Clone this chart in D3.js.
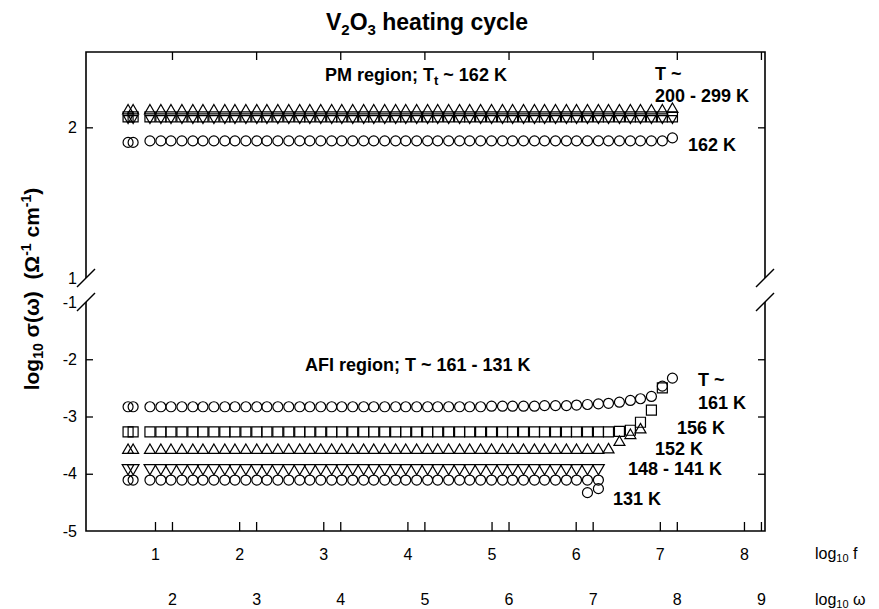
<!DOCTYPE html>
<html>
<head>
<meta charset="utf-8">
<script src="https://cdn.jsdelivr.net/npm/d3@7/dist/d3.min.js"></script>
<style>
  body { margin: 0; background: #fff; }
  svg text { font-family: "Liberation Sans", Arial, Helvetica, sans-serif; fill: #000; }
</style>
</head>
<body>
<svg id="chart" width="879" height="609"></svg>
<script>
// log10 f of every measured frequency (the first two are an extra pair at the low end)
const logF = [0.68, 0.74,
  0.94, 1.07, 1.19, 1.32, 1.45, 1.57, 1.70, 1.83, 1.95, 2.08, 2.21, 2.33, 2.46,
  2.59, 2.72, 2.84, 2.97, 3.10, 3.22, 3.35, 3.48, 3.60, 3.73, 3.86, 3.98, 4.11,
  4.24, 4.36, 4.49, 4.62, 4.74, 4.87, 5.00, 5.13, 5.25, 5.38, 5.51, 5.63, 5.76,
  5.89, 6.01, 6.14, 6.27, 6.39, 6.52, 6.65, 6.77, 6.90, 7.03, 7.15];

// PM region (T ~ 200 - 299 K and 162 K), log10 sigma
const pmTri = [2.11, 2.11, 2.11, 2.11, 2.11, 2.11, 2.11, 2.11, 2.11, 2.11, 2.11, 2.11, 2.11,
  2.11, 2.11, 2.11, 2.11, 2.11, 2.11, 2.11, 2.11, 2.11, 2.11, 2.11, 2.11, 2.11,
  2.11, 2.11, 2.11, 2.11, 2.11, 2.11, 2.11, 2.11, 2.11, 2.11, 2.11, 2.11, 2.11,
  2.11, 2.11, 2.11, 2.11, 2.11, 2.11, 2.11, 2.11, 2.11, 2.11, 2.11, 2.11, 2.12];
const pmSq = [2.07, 2.07, 2.07, 2.07, 2.07, 2.07, 2.07, 2.07, 2.07, 2.07, 2.07, 2.07, 2.07,
  2.07, 2.07, 2.07, 2.07, 2.07, 2.07, 2.07, 2.07, 2.07, 2.07, 2.07, 2.07, 2.07,
  2.07, 2.07, 2.07, 2.07, 2.07, 2.07, 2.07, 2.07, 2.07, 2.07, 2.07, 2.07, 2.07,
  2.07, 2.07, 2.07, 2.07, 2.07, 2.07, 2.07, 2.07, 2.07, 2.07, 2.07, 2.07, 2.07];
const pmInv = [2.06, 2.06, 2.06, 2.06, 2.06, 2.06, 2.06, 2.06, 2.06, 2.06, 2.06, 2.06, 2.06,
  2.06, 2.06, 2.06, 2.06, 2.06, 2.06, 2.06, 2.06, 2.06, 2.06, 2.06, 2.06, 2.06,
  2.06, 2.06, 2.06, 2.06, 2.06, 2.06, 2.06, 2.06, 2.06, 2.06, 2.06, 2.06, 2.06,
  2.06, 2.06, 2.06, 2.06, 2.06, 2.06, 2.06, 2.06, 2.06, 2.06, 2.06, 2.06, 2.06];
const pm162 = [1.90, 1.90, 1.91, 1.91, 1.91, 1.91, 1.91, 1.91, 1.91, 1.91, 1.91, 1.91, 1.91,
  1.91, 1.91, 1.91, 1.91, 1.91, 1.91, 1.91, 1.91, 1.91, 1.91, 1.91, 1.91, 1.91,
  1.91, 1.91, 1.91, 1.91, 1.91, 1.91, 1.91, 1.91, 1.91, 1.91, 1.91, 1.91, 1.91,
  1.91, 1.91, 1.91, 1.91, 1.91, 1.91, 1.91, 1.91, 1.91, 1.91, 1.91, 1.91, 1.93];

// AFI region (T ~ 161 - 131 K), log10 sigma
const afi161 = [-2.83, -2.83, -2.83, -2.83, -2.83, -2.83, -2.83, -2.83, -2.83, -2.83, -2.83, -2.83, -2.83,
  -2.83, -2.83, -2.83, -2.83, -2.83, -2.83, -2.83, -2.83, -2.83, -2.83, -2.83, -2.83, -2.83,
  -2.83, -2.83, -2.83, -2.83, -2.83, -2.83, -2.83, -2.83, -2.82, -2.82, -2.82, -2.82, -2.82,
  -2.81, -2.81, -2.81, -2.80, -2.79, -2.78, -2.77, -2.75, -2.72, -2.69, -2.65, -2.47, -2.33];
const afi156 = [-3.27, -3.27, -3.27, -3.27, -3.27, -3.27, -3.27, -3.27, -3.27, -3.27, -3.27, -3.27, -3.27,
  -3.27, -3.27, -3.27, -3.27, -3.27, -3.27, -3.27, -3.27, -3.27, -3.27, -3.27, -3.27, -3.27,
  -3.27, -3.27, -3.27, -3.27, -3.27, -3.27, -3.27, -3.27, -3.27, -3.27, -3.27, -3.27, -3.27,
  -3.27, -3.27, -3.27, -3.27, -3.27, -3.27, -3.27, -3.26, -3.24, -3.10, -2.89, -2.50];
const afi152 = [-3.59, -3.59, -3.59, -3.59, -3.59, -3.59, -3.59, -3.59, -3.59, -3.59, -3.59, -3.59, -3.59,
  -3.59, -3.59, -3.59, -3.59, -3.59, -3.59, -3.59, -3.59, -3.59, -3.59, -3.59, -3.59, -3.59,
  -3.59, -3.59, -3.59, -3.59, -3.59, -3.59, -3.59, -3.59, -3.59, -3.59, -3.59, -3.59, -3.59,
  -3.59, -3.59, -3.59, -3.59, -3.59, -3.59, -3.58, -3.45, -3.33, -3.23];
const afi148 = [-3.90, -3.90, -3.90, -3.90, -3.90, -3.90, -3.90, -3.90, -3.90, -3.90, -3.90, -3.90, -3.90,
  -3.90, -3.90, -3.90, -3.90, -3.90, -3.90, -3.90, -3.90, -3.90, -3.90, -3.90, -3.90, -3.90,
  -3.90, -3.90, -3.90, -3.90, -3.90, -3.90, -3.90, -3.90, -3.90, -3.90, -3.90, -3.90, -3.90,
  -3.90, -3.90, -3.90, -3.90, -3.90, -3.90];
const afi131 = [-4.11, -4.11, -4.11, -4.11, -4.11, -4.11, -4.11, -4.11, -4.11, -4.11, -4.11, -4.11, -4.11,
  -4.11, -4.11, -4.11, -4.11, -4.11, -4.11, -4.11, -4.11, -4.11, -4.11, -4.11, -4.11, -4.11,
  -4.11, -4.11, -4.11, -4.11, -4.11, -4.11, -4.11, -4.11, -4.11, -4.11, -4.11, -4.11, -4.11,
  -4.11, -4.11, -4.11, -4.11, -4.11, -4.11];
// the two low 131 K points at the high end
const dipF    = [6.14, 6.27];
const dipVals = [-4.33, -4.26];

// tick values
const fTicks     = [1, 2, 3, 4, 5, 6, 7, 8];
const omegaTicks = [2, 3, 4, 5, 6, 7, 8, 9];
const upperTicks = [2, 1];
const lowerTicks = [-1, -2, -3, -4, -5];

const svg = d3.select('#chart');

// frame and break positions
const frameL = 86, frameR = 765, frameT = 52, frameB = 531;
const breakHi = 278, breakLo = 302;

const x    = d3.scaleLinear().domain([0.18, 8.25]).range([frameL, frameR]);
const yTop = d3.scaleLinear().domain([1, 2.5]).range([breakHi, frameT]);
const yLow = d3.scaleLinear().domain([-5, -1]).range([frameB, breakLo]);
const y    = v => v > 0 ? yTop(v) : yLow(v);
const LOG_2PI = Math.log10(2 * Math.PI);
const plain = d => String(d);   // keep the plain hyphen of the original labels

// title
const title = svg.append('text')
  .attr('x', 427).attr('y', 30)
  .attr('text-anchor', 'middle')
  .style('font-size', '23px').style('font-weight', 'bold');
title.append('tspan').text('V');
title.append('tspan').attr('dy', 5).style('font-size', '15px').text('2');
title.append('tspan').attr('dy', -5).text('O');
title.append('tspan').attr('dy', 5).style('font-size', '15px').text('3');
title.append('tspan').attr('dy', -5).text(' heating cycle');

// axes -- only ticks and labels, the frame is drawn by hand because of the break
const styleAxis = g => {
  g.select('.domain').remove();
  g.selectAll('.tick line').attr('stroke', '#000').attr('stroke-width', 1.3);
  g.selectAll('.tick text')
    .style('font-family', '"Liberation Sans", Arial, sans-serif')
    .style('font-size', '16px').attr('fill', '#000');
};

svg.append('g')
  .attr('transform', `translate(0,${frameB})`)
  .call(d3.axisBottom(x).tickValues(fTicks).tickSize(-9).tickPadding(18).tickFormat(plain))
  .call(styleAxis);

svg.append('g')
  .attr('transform', `translate(0,${frameB})`)
  .call(d3.axisBottom(x).tickValues(omegaTicks.map(w => w - LOG_2PI)).tickSize(-9).tickPadding(63)
    .tickFormat((d, i) => omegaTicks[i]))
  .call(styleAxis);

svg.append('g')
  .attr('transform', `translate(0,${frameT})`)
  .call(d3.axisTop(x).tickValues(omegaTicks.map(w => w - LOG_2PI)).tickSize(-8).tickFormat(''))
  .call(styleAxis);

svg.append('g')
  .attr('transform', `translate(${frameL},0)`)
  .call(d3.axisLeft(yTop).tickValues(upperTicks).tickSize(-7).tickPadding(9).tickFormat(plain))
  .call(styleAxis)
  .call(g => g.selectAll('.tick line').filter(d => d === 1).remove());

svg.append('g')
  .attr('transform', `translate(${frameL},0)`)
  .call(d3.axisLeft(yLow).tickValues(lowerTicks).tickSize(-7).tickPadding(9).tickFormat(plain))
  .call(styleAxis)
  .call(g => g.selectAll('.tick line').filter(d => d === -1 || d === -5).remove());

svg.append('g')
  .attr('transform', `translate(${frameR},0)`)
  .call(d3.axisRight(yTop).tickValues([2]).tickSize(-7).tickFormat(''))
  .call(styleAxis);

svg.append('g')
  .attr('transform', `translate(${frameR},0)`)
  .call(d3.axisRight(yLow).tickValues([-2, -3, -4]).tickSize(-7).tickFormat(''))
  .call(styleAxis);

// frame with the broken vertical sides
const frame = svg.append('g').attr('stroke', '#000').attr('stroke-width', 1.6).attr('fill', 'none');
frame.append('path').attr('d',
  `M${frameL},${breakHi}V${frameT}H${frameR}V${breakHi}` +
  `M${frameL},${breakLo}V${frameB}H${frameR}V${breakLo}`);
for (const xs of [frameL, frameR]) {
  for (const ys of [breakHi, breakLo]) {
    frame.append('line')
      .attr('x1', xs - 9).attr('y1', ys + 9)
      .attr('x2', xs + 9).attr('y2', ys - 9)
      .attr('stroke-width', 1.4);
  }
}

// axis names at the lower right
const axisName = (ypos, main, tail) => {
  const t = svg.append('text').attr('x', 815).attr('y', ypos).style('font-size', '16px');
  t.append('tspan').text(main);
  t.append('tspan').attr('dy', 3).style('font-size', '11px').text('10');
  t.append('tspan').attr('dy', -3).text(' ' + tail);
};
axisName(559, 'log', 'f');
axisName(605, 'log', 'ω');

// y axis title
const yTitle = svg.append('text')
  .attr('transform', 'translate(39,289) rotate(-90)')
  .attr('text-anchor', 'middle')
  .style('font-size', '21px').style('font-weight', 'bold');
yTitle.append('tspan').text('log');
yTitle.append('tspan').attr('dy', 4).style('font-size', '14px').text('10');
yTitle.append('tspan').attr('dy', -4).text(' σ(ω)\u00a0 (Ω');
yTitle.append('tspan').attr('dy', -8).style('font-size', '14px').text('-1');
yTitle.append('tspan').attr('dy', 8).text(' cm');
yTitle.append('tspan').attr('dy', -8).style('font-size', '14px').text('-1');
yTitle.append('tspan').attr('dy', 8).text(')');

// markers
const circle   = d3.symbol().type(d3.symbolCircle).size(Math.PI * 5 * 5)();
const square   = d3.symbol().type(d3.symbolSquare).size(100)();
const triangle = d3.symbol().type(d3.symbolTriangle).size(52)();
const smallTri = d3.symbol().type(d3.symbolTriangle).size(36)();
const bigTri   = d3.symbol().type(d3.symbolTriangle).size(60)();

const series = [
  { vals: pmSq,   path: square,   rot: 0 },
  { vals: pmInv,  path: smallTri, rot: 180 },
  { vals: pmTri,  path: triangle, rot: 0 },
  { vals: pm162,  path: circle,   rot: 0 },
  { vals: afi161, path: circle,   rot: 0 },
  { vals: afi156, path: square,   rot: 0 },
  { vals: afi152, path: triangle, rot: 0 },
  { vals: afi148, path: bigTri,   rot: 180 },
  { vals: afi131, path: circle,   rot: 0 }
];

const marks = svg.append('g').attr('fill', 'none').attr('stroke', '#000').attr('stroke-width', 1.2);
for (const s of series) {
  marks.append('g').selectAll('path')
    .data(s.vals.map((v, i) => [logF[i], v]))
    .join('path')
    .attr('d', s.path)
    .attr('transform', d => `translate(${x(d[0])},${y(d[1])}) rotate(${s.rot})`);
}
marks.append('g').selectAll('path')
  .data(dipVals.map((v, i) => [dipF[i], v]))
  .join('path')
  .attr('d', circle)
  .attr('transform', d => `translate(${x(d[0])},${y(d[1])})`);

// annotations
const notes = svg.append('g').style('font-size', '18px').style('font-weight', 'bold');
const note = (xp, yp, txt) => notes.append('text').attr('x', xp).attr('y', yp).text(txt);

const pm = notes.append('text').attr('x', 325).attr('y', 81);
pm.append('tspan').text('PM region; T');
pm.append('tspan').attr('dy', 4).style('font-size', '13px').text('t');
pm.append('tspan').attr('dy', -4).text(' ~ 162 K');
note(655, 80, 'T ~');
note(655, 102, '200 - 299 K');
note(688, 151, '162 K');

note(305, 371, 'AFI region; T ~ 161 - 131 K');
note(698, 386, 'T ~');
note(698, 409, '161 K');
note(677, 434, '156 K');
note(655, 455, '152 K');
note(628, 475, '148 - 141 K');
note(613, 505, '131 K');
</script>
</body>
</html>
